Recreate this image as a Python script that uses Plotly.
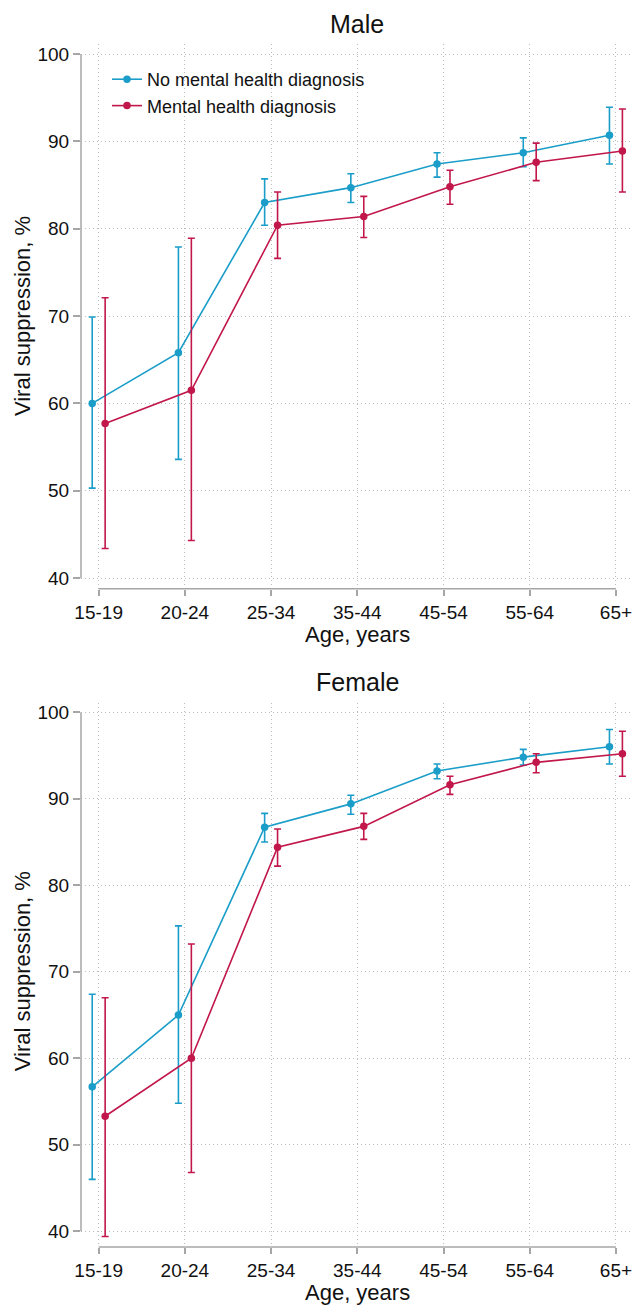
import plotly.graph_objects as go

ages = ["15-19", "20-24", "25-34", "35-44", "45-54", "55-64", "65+"]
series_names = ["No mental health diagnosis", "Mental health diagnosis"]

male_no = [60.0, 65.8, 83.0, 84.7, 87.4, 88.7, 90.7]
male_no_hi = [69.9, 77.9, 85.7, 86.3, 88.7, 90.4, 93.9]
male_no_lo = [50.3, 53.6, 80.4, 83.0, 85.9, 87.1, 87.4]
male_mh = [57.7, 61.5, 80.4, 81.4, 84.8, 87.6, 88.9]
male_mh_hi = [72.1, 78.9, 84.2, 83.7, 86.7, 89.8, 93.7]
male_mh_lo = [43.4, 44.3, 76.6, 79.0, 82.8, 85.5, 84.2]

female_no = [56.7, 65.0, 86.7, 89.4, 93.2, 94.8, 96.0]
female_no_hi = [67.4, 75.3, 88.3, 90.4, 94.0, 95.7, 98.0]
female_no_lo = [46.0, 54.8, 85.0, 88.2, 92.3, 93.9, 94.0]
female_mh = [53.3, 60.0, 84.4, 86.8, 91.6, 94.2, 95.2]
female_mh_hi = [67.0, 73.2, 86.5, 88.3, 92.6, 95.2, 97.8]
female_mh_lo = [39.4, 46.8, 82.2, 85.3, 90.5, 93.0, 92.6]

BLUE = "#1a9dc8"
RED = "#c1174b"
GRID = "#bdbdbd"
AXIS = "#a6a6a6"
FONT = "Liberation Sans, Arial, sans-serif"

W, H = 633, 1305
ML, MT, MB = 81, 44, 58.3
plot_h = H - MT - MB


def py(p):
    return (H - MB - p) / plot_h


fig = go.Figure()

offset = 0.075
idx = list(range(len(ages)))

panels = [
    ("x", "y", male_no, male_no_hi, male_no_lo, male_mh, male_mh_hi, male_mh_lo, True),
    ("x2", "y2", female_no, female_no_hi, female_no_lo, female_mh, female_mh_hi, female_mh_lo, False),
]

for xa, ya, n, nhi, nlo, m, mhi, mlo, show in panels:
    for name, vals, hi, lo, col, sgn in [
        (series_names[0], n, nhi, nlo, BLUE, -1),
        (series_names[1], m, mhi, mlo, RED, 1),
    ]:
        fig.add_trace(go.Scatter(
            x=[i + sgn * offset for i in idx], y=vals,
            mode="lines+markers", name=name, showlegend=show,
            xaxis=xa, yaxis=ya,
            line=dict(color=col, width=1.6),
            marker=dict(color=col, size=7.5),
            error_y=dict(type="data", symmetric=False,
                         array=[h - v for h, v in zip(hi, vals)],
                         arrayminus=[v - l for v, l in zip(vals, lo)],
                         color=col, thickness=1.6, width=3.5),
        ))

male_dom = [py(588.7), 1.0]
female_dom = [0.0, py(702.7)]

xcommon = dict(range=[-0.205, 6.198], tickmode="array", tickvals=idx, ticktext=ages,
               showgrid=True, gridcolor=GRID, griddash="1px,3px", gridwidth=1,
               zeroline=False, showline=False, ticks="outside", ticklen=6,
               tickcolor=AXIS, tickwidth=1.5,
               tickfont=dict(family=FONT, size=19, color="#111111"))
ycommon = dict(tickmode="array", tickvals=[40, 50, 60, 70, 80, 90, 100],
               showgrid=True, gridcolor=GRID, griddash="1px,3px", gridwidth=1,
               zeroline=False, showline=False, ticks="outside", ticklen=7,
               tickcolor=AXIS, tickwidth=1.5,
               tickfont=dict(family=FONT, size=19, color="#111111"))

fig.update_layout(
    width=W, height=H,
    margin=dict(l=ML, r=0, t=MT, b=MB),
    paper_bgcolor="white", plot_bgcolor="white",
    font=dict(family=FONT, color="#111111"),
    xaxis=dict(domain=[0, 1], anchor="y", **xcommon),
    yaxis=dict(domain=male_dom, anchor="x", range=[38.775, 101.145], **ycommon),
    xaxis2=dict(domain=[0, 1], anchor="y2", **xcommon),
    yaxis2=dict(domain=female_dom, anchor="x2", range=[38.185, 101.075], **ycommon),
    legend=dict(x=(107 - ML) / (W - ML), y=py(61), xanchor="left", yanchor="top",
                bgcolor="rgba(0,0,0,0)", font=dict(family=FONT, size=18, color="#111111"),
                tracegroupgap=0),
    showlegend=True,
)

# axis lines (Stata-style, spanning only tick range)
for xa, ya in [("x", "y"), ("x2", "y2")]:
    fig.add_shape(type="line", xref=f"{xa} domain", yref=ya, x0=0, x1=0, y0=40, y1=100,
                  line=dict(color=AXIS, width=1.5))
    fig.add_shape(type="line", xref=xa, yref=f"{ya} domain", x0=0, x1=6, y0=0, y1=0,
                  line=dict(color=AXIS, width=1.5))

# titles
for title, ycen in [("Male", 24), ("Female", 682)]:
    fig.add_annotation(text=title, xref="paper", yref="paper", x=0.5, y=py(ycen),
                       xanchor="center", yanchor="middle", showarrow=False,
                       font=dict(family=FONT, size=25, color="#111111"))
for ycen in [634, 1292]:
    fig.add_annotation(text="Age, years", xref="paper", yref="paper", x=0.5, y=py(ycen),
                       xanchor="center", yanchor="middle", showarrow=False,
                       font=dict(family=FONT, size=22, color="#111111"))
for ycen in [316, 971]:
    fig.add_annotation(text="Viral suppression, %", xref="paper", yref="paper",
                       x=(22 - ML) / (W - ML), y=py(ycen), textangle=-90,
                       xanchor="center", yanchor="middle", showarrow=False,
                       font=dict(family=FONT, size=22, color="#111111"))

fig.write_html("out.html")
